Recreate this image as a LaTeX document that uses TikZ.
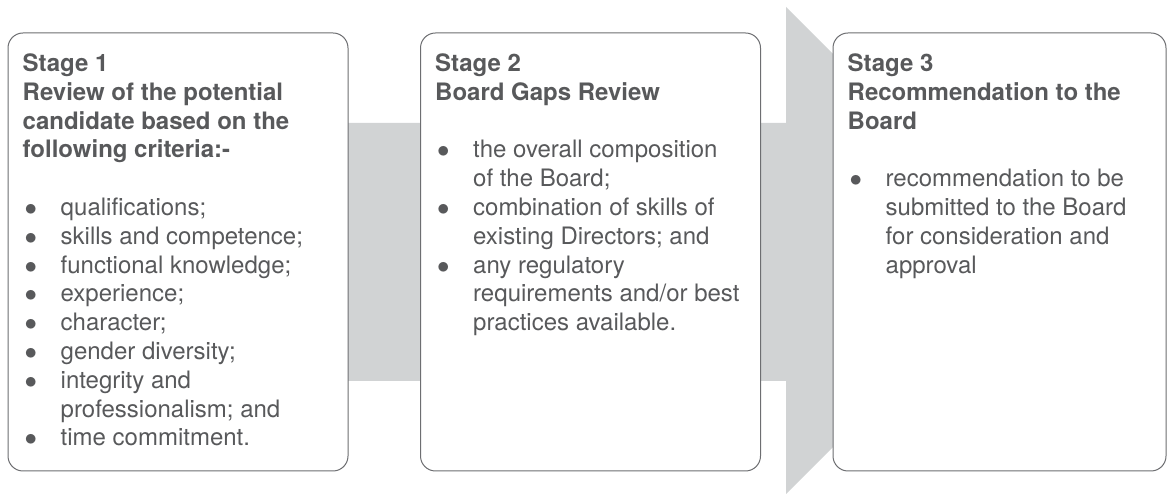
\documentclass[tikz,border=0pt]{standalone}
\usepackage{fontspec}
\setmainfont{TeX Gyre Heros}
\usepackage{xcolor}
\usepackage{tikz}
\usetikzlibrary{positioning}
\definecolor{bandgray}{HTML}{D1D3D4}
\definecolor{boxgray}{HTML}{6D6E71}
\definecolor{txtgray}{HTML}{58595B}
\tikzstyle{stagebox}=[draw=boxgray, fill=white, rounded corners=15pt, line width=1pt, minimum width=340pt, minimum height=438pt, inner sep=0pt]
\tikzset{
    stagetext/.style={align=left, inner sep=0pt, text=txtgray, font=\fontsize{24}{28.8}\selectfont}
}
\newcommand{\bul}{\makebox[38pt][l]{\hspace{2pt}$\bullet$}}
\newcommand{\ind}{\hspace*{38pt}}

\begin{document}
\begin{tikzpicture}[x=1pt, y=1pt]
  \useasboundingbox (0,0) rectangle (1168,494);

  % grey arrow behind the three stages
  \fill[bandgray] (300,371) -- (786,371) -- (786,487) -- (1030,243.5)
        -- (786,0) -- (786,113) -- (300,113) -- cycle;

  \node[stagebox] (stage1) at (178,242) {};
  \node[stagebox] (stage2) at (590.5,242) {};
  \node[stagebox, minimum width=333pt] (stage3) at (999.5,242) {};

  %%%%%%%% texts %%%%%%%%%%%%%%%%%%%%%%%%%%%
  \node[stagetext, below right=21pt and 15pt of stage1.north west] (text1) {%
    \textbf{Stage 1}\\
    \textbf{Review of the potential}\\
    \textbf{candidate based on the}\\
    \textbf{following criteria:-}\\[28.8pt]
    \bul qualifications;\\
    \bul skills and competence;\\
    \bul functional knowledge;\\
    \bul experience;\\
    \bul character;\\
    \bul gender diversity;\\
    \bul integrity and\\
    \ind professionalism; and\\
    \bul time commitment.};

  \node[stagetext, below right=21pt and 15pt of stage2.north west] (text2) {%
    \textbf{Stage 2}\\
    \textbf{Board Gaps Review}\\[28.8pt]
    \bul the overall composition\\
    \ind of the Board;\\
    \bul combination of skills of\\
    \ind existing Directors; and\\
    \bul any regulatory\\
    \ind requirements and/or best\\
    \ind practices available.};

  \node[stagetext, below right=21pt and 15pt of stage3.north west] (text3) {%
    \textbf{Stage 3}\\
    \textbf{Recommendation to the}\\
    \textbf{Board}\\[28.8pt]
    \bul recommendation to be\\
    \ind submitted to the Board\\
    \ind for consideration and\\
    \ind approval};
\end{tikzpicture}
\end{document}
